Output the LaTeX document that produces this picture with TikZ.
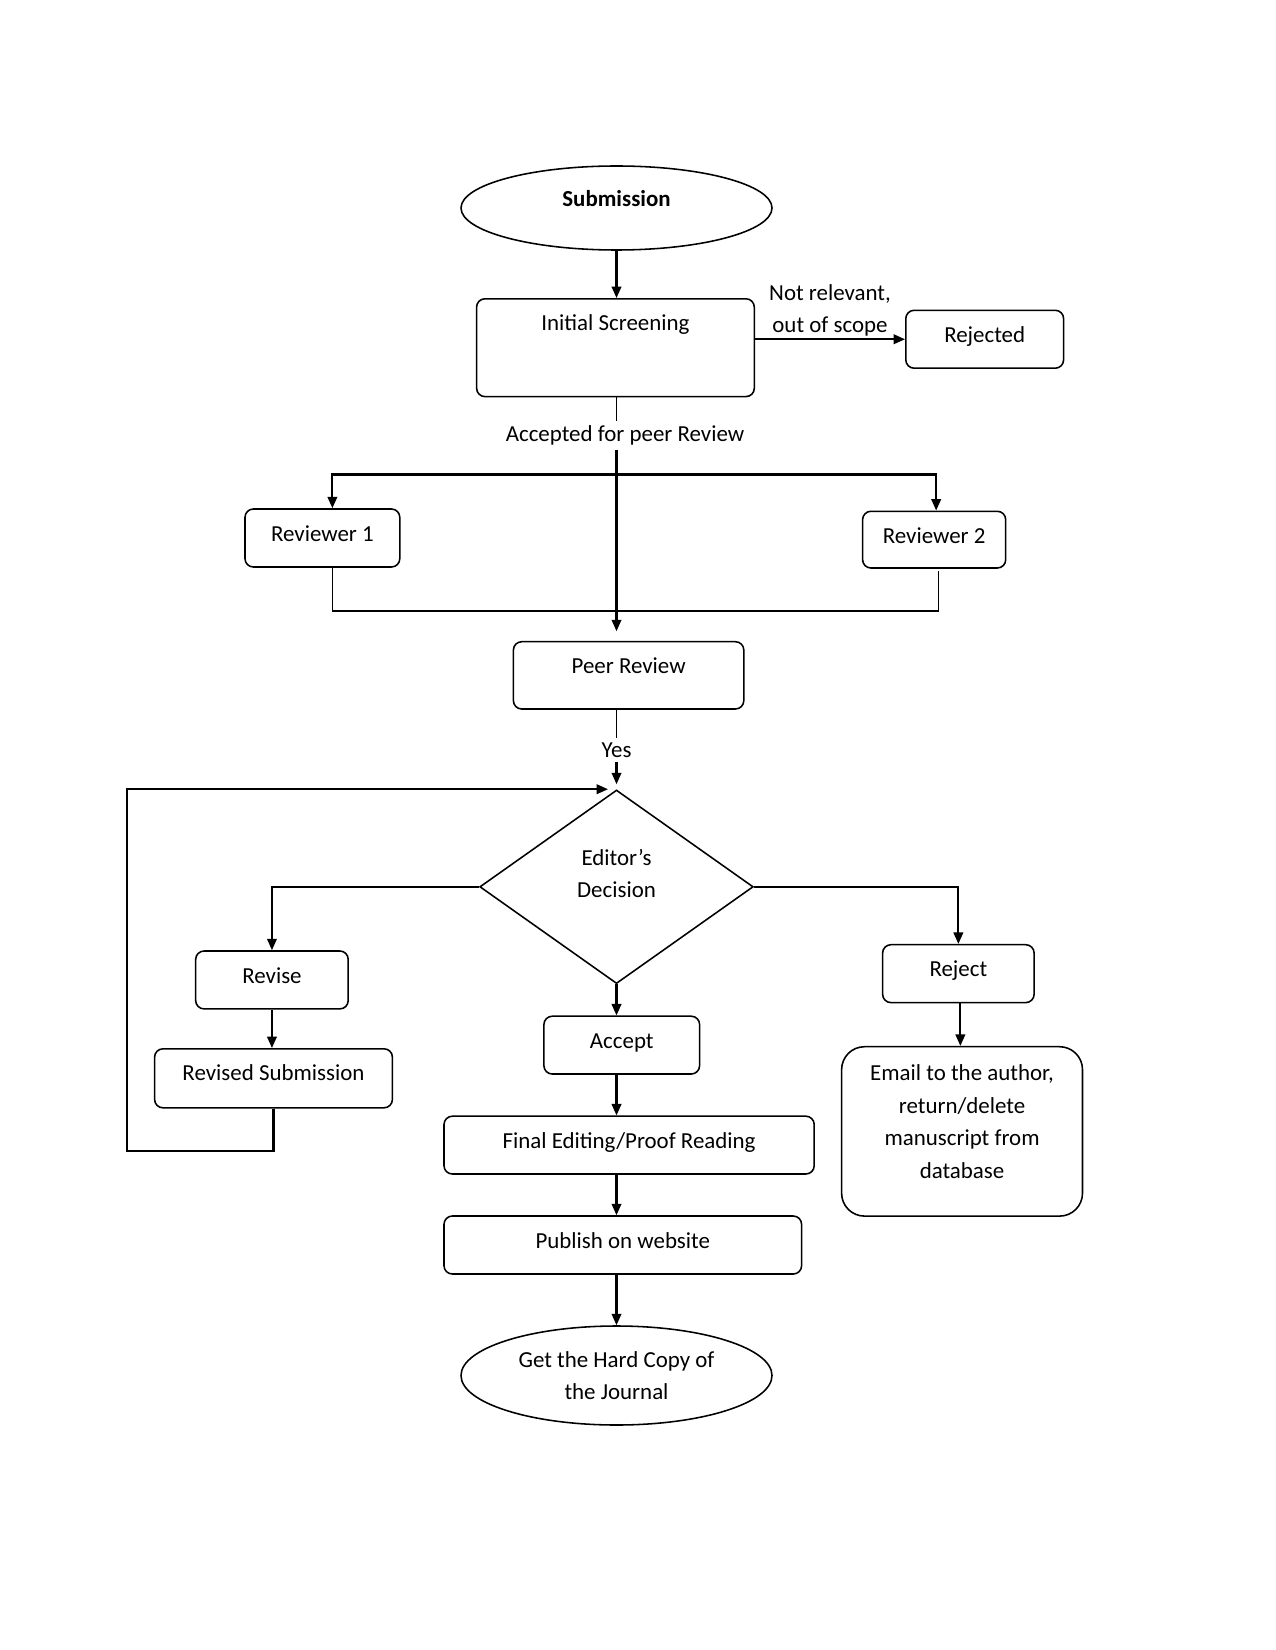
\documentclass[tikz,border=0pt]{standalone}
\usepackage{fontspec}
\setmainfont{Carlito}
\usetikzlibrary{arrows.meta,shapes.geometric,calc}
\newlength\pxu
\setlength\pxu{0.48pt}
\begin{document}
\fontsize{11pt}{15.6pt}\selectfont
\begin{tikzpicture}[x=0.48pt,y=-0.48pt,
  every node/.style={font=\fontsize{11pt}{15.6pt}\selectfont},
  box/.style={draw, line width=0.75pt, rounded corners=4pt, inner sep=0pt, align=center, text height=32\pxu},
  oval/.style={draw, line width=0.75pt, ellipse, inner sep=0pt, align=center},
  decbox/.style={draw, line width=0.75pt, diamond, inner sep=0pt},
  lbl/.style={inner sep=2pt, align=center},
  arr/.style={line width=1pt, -{Triangle[length=5.5pt,width=4.6pt]}},
  ln/.style={line width=0.75pt}]
\useasboundingbox (0,0) rectangle (1275,1650);
\fill[white] (0,0) rectangle (1275,1650);

% nodes
\node[oval, minimum width=311\pxu, minimum height=84\pxu, font=\fontsize{11pt}{15.6pt}\selectfont\bfseries, text height=6pt, text depth=7pt] (sub) at (616.5,208) {Submission};
\node[box, minimum width=277.7\pxu, minimum height=97.8\pxu, text depth=65.8\pxu] (init) at (615.45,347.7) {Initial Screening};
\node[box, minimum width=157.8\pxu, minimum height=57.9\pxu, text depth=25.9\pxu] (rej) at (984.7,339.25) {Rejected};
\node[lbl] (notrel) at (830,310.3) {Not relevant,\\out of scope};
\node[lbl] (acclbl) at (625,435.5) {Accepted for peer Review};
\node[box, minimum width=154.8\pxu, minimum height=58\pxu, text depth=26\pxu] (rev1) at (322.4,538) {Reviewer 1};
\node[box, minimum width=143.1\pxu, minimum height=56.7\pxu, text depth=24.7\pxu] (rev2) at (934.15,539.65) {Reviewer 2};
\node[box, minimum width=230.4\pxu, minimum height=67.3\pxu, text depth=35.3\pxu] (pr) at (628.6,675.35) {Peer Review};
\node[lbl] (yes) at (616.5,750) {Yes};
\node[decbox, minimum width=273.5\pxu, minimum height=193.6\pxu] (dec) at (616.5,886.8) {};
\node[lbl] (dectxt) at (616.5,873.7) {Editor’s\\Decision};
\node[box, minimum width=152.5\pxu, minimum height=57.9\pxu, text depth=25.9\pxu] (revise) at (271.95,979.95) {Revise};
\node[box, minimum width=237.8\pxu, minimum height=59\pxu, text depth=27\pxu] (revsub) at (273.5,1078.3) {Revised Submission};
\node[box, minimum width=155.7\pxu, minimum height=57.8\pxu, text depth=25.8\pxu] (accept) at (621.75,1045.1) {Accept};
\node[box, minimum width=370.2\pxu, minimum height=57.8\pxu, text depth=25.8\pxu] (final) at (629.1,1145.1) {Final Editing/Proof Reading};
\node[box, minimum width=357.6\pxu, minimum height=58\pxu, text depth=26\pxu] (pub) at (622.8,1245) {Publish on website};
\node[oval, minimum width=311\pxu, minimum height=99\pxu] (journal) at (616.5,1375.5) {Get the Hard Copy of\\the Journal};
\node[box, minimum width=151.5\pxu, minimum height=57.9\pxu, text depth=25.9\pxu] (reject) at (958.35,973.65) {Reject};
\node[box, rounded corners=11pt, minimum width=240.9\pxu, minimum height=169.4\pxu, text height=131.3\pxu, text depth=38.1\pxu] (email) at (962.05,1131.4) {Email to the author,\\return/delete\\manuscript from\\database};

\coordinate (loopL) at (127.3,1150.9);
\coordinate (joinY) at (616.5,611.2);
\coordinate (splitY) at (616.5,474.5);

% connectors
\draw[arr] (sub.south) -- (sub.south |- init.north);
\draw[arr] (init.east |- rej.west) -- (rej.west);
\draw[ln] (dec.north |- init.south) -- (dec.north |- acclbl.north);
\draw[arr, shorten >=9.7\pxu] (dec.north |- acclbl.south) -- (dec.north |- pr.north);
\draw[arr] (splitY) -| ([xshift=10\pxu]rev1.north);
\draw[arr] (splitY) -| ([xshift=2\pxu]rev2.north);
\draw[ln] ([xshift=10\pxu]rev1.south) |- (joinY) -| ([xshift=4.2\pxu,yshift=-2\pxu]rev2.south);
\draw[ln] (dec.north |- pr.south) -- (yes.north);
\draw[arr, shorten >=5\pxu] (yes.south) -- (dec.north);
\draw[arr] (revsub.south) |- (loopL) |- ([xshift=-8.5\pxu]dec.north);
\draw[arr] (dec.west) -| (revise.north);
\draw[arr] (revise.south) -- (revise.south |- revsub.north);
\draw[arr] (dec.south) -- (dec.south |- accept.north);
\draw[arr] (dec.south |- accept.south) -- (dec.south |- final.north);
\draw[arr] (dec.south |- final.south) -- (dec.south |- pub.north);
\draw[arr] (dec.south |- pub.south) -- (journal.north);
\draw[arr] (dec.east) -| (reject.north);
\draw[arr] ([xshift=2\pxu]reject.south) -- ([xshift=2\pxu]reject.south |- email.north);
\end{tikzpicture}
\end{document}
